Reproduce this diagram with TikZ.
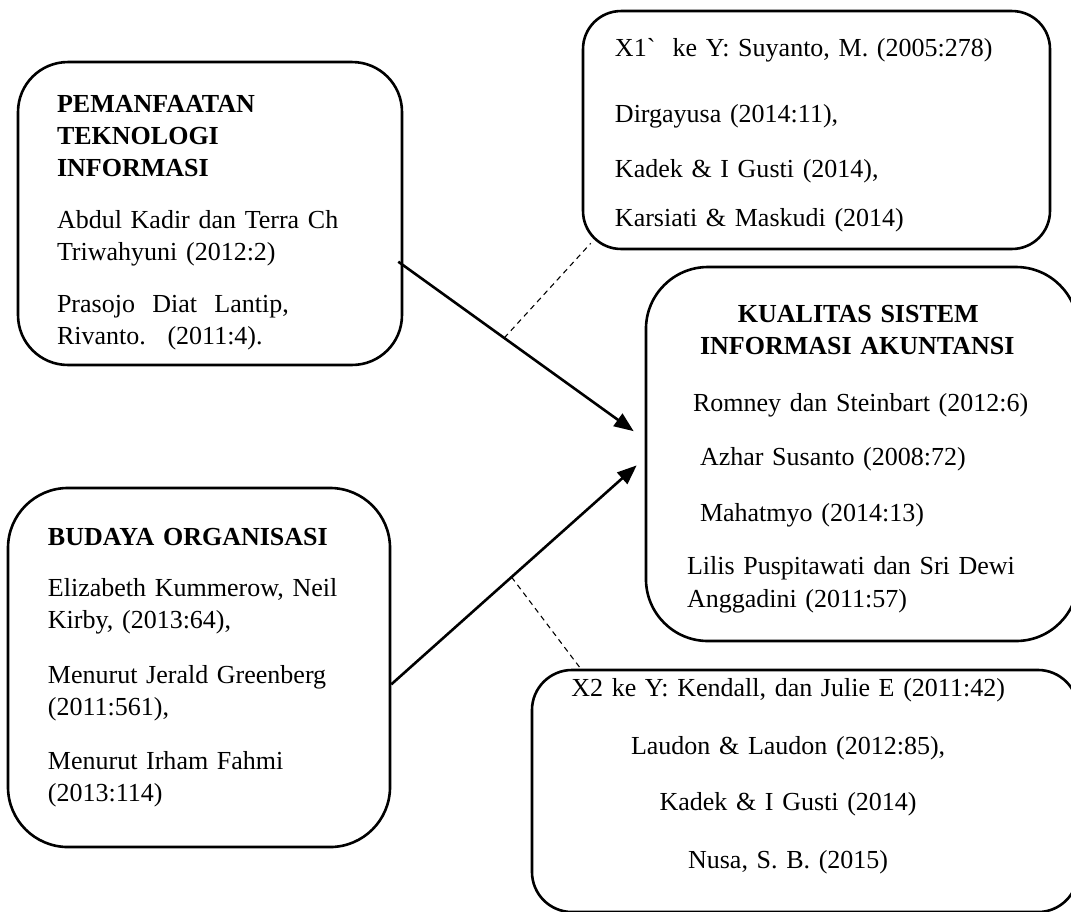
\documentclass[tikz,border=0pt]{standalone}
\usepackage{fontspec}
\setmainfont{Liberation Serif}
\usetikzlibrary{arrows.meta,calc}

\begin{document}
\begin{tikzpicture}[x=0.4615pt,y=-0.4615pt]
        \tikzstyle{box}=[draw=black,line width=1.2pt,inner sep=0pt,font=\fontsize{12}{14.8}\selectfont]
        \tikzstyle{edge}=[draw,line width=1.2pt,-{Triangle[length=9pt,width=7pt]}]
        \tikzstyle{link}=[draw,line width=0.5pt,dash pattern=on 2.5pt off 2pt]
        \useasboundingbox (0,0) rectangle (1071,911);
        % variabel X1, X2 dan Y
        \node [box,rounded corners=23pt,minimum width=177.2pt,minimum height=139.8pt,text width=141.2pt,align=left] (ti) at (210,213.5)
           {\rule{0pt}{16.2pt}\textbf{PEMANFAATAN}\\ \textbf{TEKNOLOGI}\\ \textbf{INFORMASI}\\[9.5pt]
            Abdul Kadir dan Terra Ch\\ Triwahyuni (2012:2)\\[9pt]
            Prasojo~ Diat~ Lantip,\\ Rivanto.~ (2011:4).};
        \node [box,rounded corners=27.7pt,minimum width=176.3pt,minimum height=165.7pt,text width=139.4pt,align=left] (bo) at (199,667.5)
           {\textbf{BUDAYA ORGANISASI}\\[9pt]
            Elizabeth Kummerow, Neil\\ Kirby, (2013:64),\\[10.5pt]
            Menurut Jerald Greenberg\\ (2011:561),\\[10pt]
            Menurut Irham Fahmi\\ (2013:114)};
        \node [box,rounded corners=28.6pt,minimum width=199.4pt,minimum height=172.6pt,text width=161.5pt,align=left] (sia) at (862,454)
           {\rule{0pt}{12.5pt}\hspace*{23.5pt}\textbf{KUALITAS SISTEM}\\ \hspace*{6pt}\textbf{INFORMASI AKUNTANSI}\\[11.5pt]
            \hspace*{2.8pt}Romney dan Steinbart (2012:6)\\[10pt]
            \hspace*{6pt}Azhar Susanto (2008:72)\\[11pt]
            \hspace*{6pt}Mahatmyo (2014:13)\\[10pt]
            Lilis Puspitawati dan Sri Dewi\\ Anggadini (2011:57)};
        % rujukan hubungan
        \node [box,rounded corners=17.5pt,minimum width=215.5pt,minimum height=109.8pt,text width=186pt,align=left] (x1) at (816.5,130)
           {\rule{0pt}{12.9pt}X1\textasciigrave~ ke Y: Suyanto, M. (2005:278)\\[15.8pt]
            Dirgayusa (2014:11),\\[10.5pt]
            Kadek \& I Gusti (2014),\\[7.8pt]
            Karsiati \& Maskudi (2014)};
        \node [box,rounded corners=18.5pt,minimum width=252pt,minimum height=111.7pt,text width=221.5pt,align=center] (x2) at (805,791)
           {X2 ke Y: Kendall, dan Julie E (2011:42)\kern15.6pt\\[12pt]
            Laudon \& Laudon (2012:85),\kern15.6pt\\[11pt]
            Kadek \& I Gusti (2014)\kern15.6pt\\[12pt]
            Nusa, S. B. (2015)\kern15.6pt\rule[-16.4pt]{0pt}{0pt}};
        \path[edge] ($(ti.-14)+(-5,0)$) -- coordinate[pos=.45] (m1) ($(sia.174)+(-11,0)$);
        \path[edge] (bo.-5) -- coordinate[pos=.49] (m2) ($(sia.183.5)+(-8,0)$);
        \path[link] (m1) -- ($(x1.south west)+(9,-7)$);
        \path[link] (m2) -- ($(x2.north west)+(50,0)$);
\end{tikzpicture}
\end{document}
